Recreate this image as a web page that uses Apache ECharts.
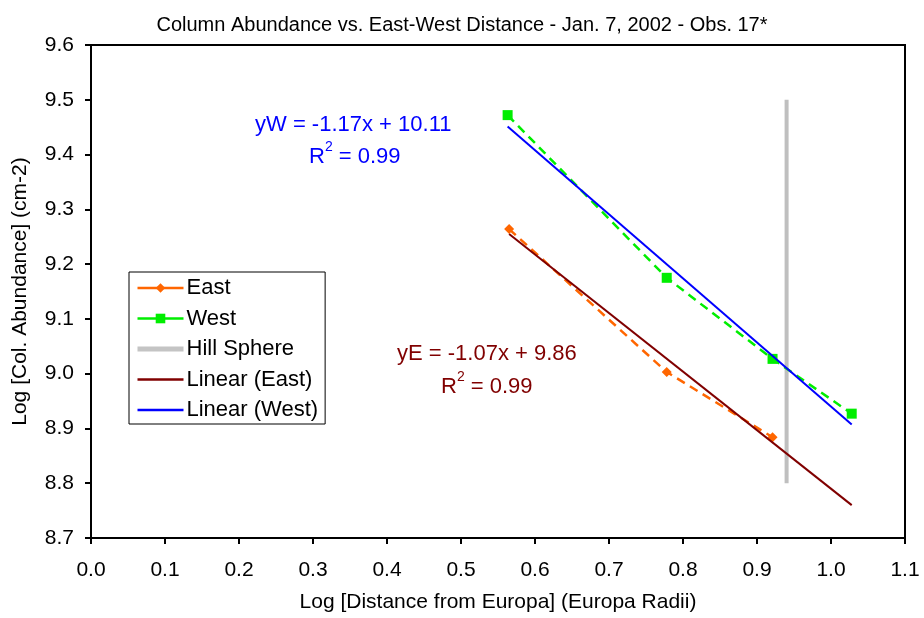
<!DOCTYPE html>
<html>
<head>
<meta charset="utf-8">
<script src="https://cdn.jsdelivr.net/npm/echarts@6/dist/echarts.min.js"></script>
<style>html,body{margin:0;padding:0;background:#fff}#c{width:924px;height:618px}</style>
</head>
<body>
<div id="c"></div>
<script>
const eastX = [0.565, 0.778, 0.921];
const eastY = [9.264, 9.003, 8.884];
const westX = [0.563, 0.778, 0.921, 1.028];
const westY = [9.472, 9.175, 9.027, 8.927];
const hillX = [0.94, 0.94];
const hillY = [8.8, 9.5];
const fitEastX = [0.565, 1.028];
const fitEastY = [9.255, 8.760];
const fitWestX = [0.563, 1.028];
const fitWestY = [9.451, 8.907];
const xTicks = [0, 1.1, 0.1];
const yTicks = [8.7, 9.6, 0.1];

const zip = (a, b) => a.map((v, i) => [v, b[i]]);
const FONT = 'Liberation Sans';

const chart = echarts.init(document.getElementById('c'));
chart.setOption({
  animation: false,
  backgroundColor: '#fff',
  title: {
    text: 'Column Abundance vs. East-West Distance - Jan. 7, 2002 - Obs. 17*',
    left: 'center', top: 10,
    textStyle: { fontFamily: FONT, fontSize: 20, fontWeight: 'normal', color: '#000' }
  },
  grid: { left: 91, top: 45, right: 19, bottom: 80, show: true, borderColor: '#000', borderWidth: 2 },
  legend: {
    orient: 'vertical', left: 129, top: 272,
    borderColor: '#000', borderWidth: 1, backgroundColor: '#fff',
    padding: [5, 7, 3, 6], itemWidth: 46, itemHeight: 12, itemGap: 8.5,
    textStyle: { fontFamily: FONT, fontSize: 22, color: '#000', padding: [0, 0, 0, -2] },
    data: [
      { name: 'East', lineStyle: { type: 'solid', width: 2.5 } },
      { name: 'West', lineStyle: { type: 'solid', width: 2.5 } },
      { name: 'Hill Sphere', lineStyle: { width: 5, color: '#c4c4c4' } },
      { name: 'Linear (East)', lineStyle: { width: 2.5 } },
      { name: 'Linear (West)', lineStyle: { width: 2.5 } }
    ]
  },
  xAxis: {
    type: 'value', min: xTicks[0], max: xTicks[1], interval: xTicks[2],
    name: 'Log [Distance from Europa] (Europa Radii)', nameLocation: 'middle', nameGap: 54,
    nameTextStyle: { fontFamily: FONT, fontSize: 21, color: '#000' },
    axisLine: { lineStyle: { color: '#000', width: 2 } },
    axisTick: { show: true, length: 6, lineStyle: { color: '#000', width: 2 } },
    axisLabel: { fontFamily: FONT, fontSize: 21, color: '#000', margin: 22, formatter: v => v.toFixed(1) },
    splitLine: { show: false }
  },
  yAxis: {
    type: 'value', min: yTicks[0], max: yTicks[1], interval: yTicks[2],
    name: 'Log [Col. Abundance] (cm-2)', nameLocation: 'middle', nameGap: 60,
    nameTextStyle: { fontFamily: FONT, fontSize: 21, color: '#000' },
    axisLine: { lineStyle: { color: '#000', width: 2 } },
    axisTick: { show: true, length: 6, lineStyle: { color: '#000', width: 2 } },
    axisLabel: { fontFamily: FONT, fontSize: 21, color: '#000', margin: 17, formatter: v => v.toFixed(1) },
    splitLine: { show: false }
  },
  series: [
    { name: 'Hill Sphere', type: 'line', data: zip(hillX, hillY), symbol: 'none',
      lineStyle: { color: '#bfbfbf', width: 4 }, itemStyle: { color: '#bfbfbf', opacity: 0 }, z: 1 },
    { name: 'East', type: 'line', data: zip(eastX, eastY), symbol: 'diamond', symbolSize: 10,
      lineStyle: { color: '#ff6600', width: 2.5, type: [9, 6] }, itemStyle: { color: '#ff6600' }, z: 3 },
    { name: 'West', type: 'line', data: zip(westX, westY), symbol: 'rect', symbolSize: 10,
      lineStyle: { color: '#00ee00', width: 2.5, type: [9, 6] }, itemStyle: { color: '#00ee00' }, z: 3 },
    { name: 'Linear (East)', type: 'line', data: zip(fitEastX, fitEastY), symbol: 'none',
      lineStyle: { color: '#800000', width: 2 }, itemStyle: { color: '#800000', opacity: 0 }, z: 4 },
    { name: 'Linear (West)', type: 'line', data: zip(fitWestX, fitWestY), symbol: 'none',
      lineStyle: { color: '#0000ff', width: 2 }, itemStyle: { color: '#0000ff', opacity: 0 }, z: 4 }
  ],
  graphic: [
    { type: 'text', left: 255, top: 114, style: { text: 'yW = -1.17x + 10.11', fill: '#0000ff', font: '22px "Liberation Sans"' } },
    { type: 'text', left: 309, top: 140, style: {
      text: '{a|R}{s|2}{a| = 0.99}', fill: '#0000ff',
      rich: { a: { fontFamily: FONT, fontSize: 22, fill: '#0000ff', verticalAlign: 'bottom', lineHeight: 28 },
              s: { fontFamily: FONT, fontSize: 14, fill: '#0000ff', verticalAlign: 'top', lineHeight: 28 } } } },
    { type: 'text', left: 397, top: 343, style: { text: 'yE = -1.07x + 9.86', fill: '#800000', font: '22px "Liberation Sans"' } },
    { type: 'text', left: 441, top: 370, style: {
      text: '{a|R}{s|2}{a| = 0.99}', fill: '#800000',
      rich: { a: { fontFamily: FONT, fontSize: 22, fill: '#800000', verticalAlign: 'bottom', lineHeight: 28 },
              s: { fontFamily: FONT, fontSize: 14, fill: '#800000', verticalAlign: 'top', lineHeight: 28 } } } }
  ]
});
</script>
</body>
</html>
